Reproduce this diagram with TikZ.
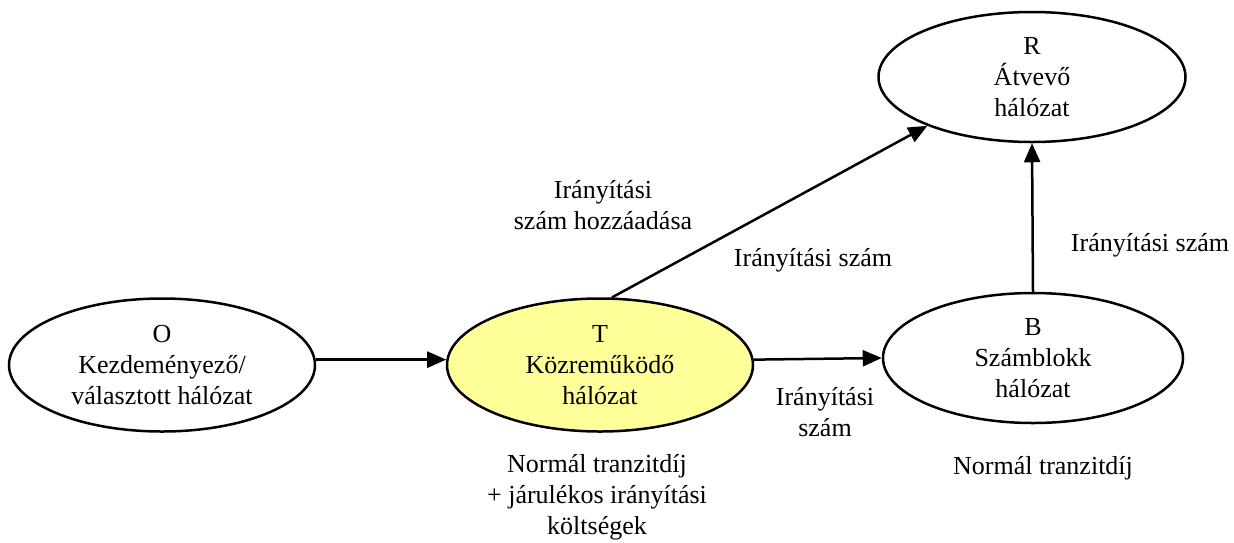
\documentclass[tikz,border=0pt]{standalone}
\usepackage{fontspec}
\setmainfont{Liberation Serif}
\usetikzlibrary{shapes.geometric,arrows.meta}
\definecolor{tyellow}{RGB}{255,255,153}
\begin{document}
\begin{tikzpicture}[x=1pt,y=-1pt,
  net/.style={ellipse, draw, line width=2.5pt, minimum width=306pt, minimum height=133pt,
    inner sep=0pt, align=center, font=\fontsize{26}{31}\selectfont},
  lbl/.style={align=center, font=\fontsize{26}{31}\selectfont, inner sep=0pt},
  conn/.style={line width=2.5pt, -{Triangle[length=19pt,width=16pt]}}]
\path[use as bounding box] (0,0) rectangle (1234,542);

\node[net] (O) at (162,365) {O\\Kezdeményező/\\választott hálózat};
\node[net, fill=tyellow] (T) at (600,365) {T\\Közreműködő\\hálózat};
\node[net, minimum width=300pt, minimum height=130pt] (B) at (1033,358) {B\\Számblokk\\hálózat};
\node[net, minimum width=307pt, minimum height=130pt] (R) at (1032,77) {R\\Átvevő\\hálózat};

\draw[conn] (O.2) -- (T.178);
\draw[conn] (T.2) -- (B.west);
\draw[conn] (T.80) -- (R.205);
\draw[conn] (B.north) -- (R.south);

\node[lbl] (l1) at (603,205) {Irányítási\\szám hozzáadása};
\node[lbl] (l2) at (813,260) {Irányítási szám};
\node[lbl] (l3) at (825,412) {Irányítási\\szám};
\node[lbl] (l4) at (1150,245) {Irányítási szám};
\node[lbl] (l5) at (597,497) {Normál tranzitdíj\\+ járulékos irányítási\\költségek};
\node[lbl] (l6) at (1043,468) {Normál tranzitdíj};
\end{tikzpicture}
\end{document}
